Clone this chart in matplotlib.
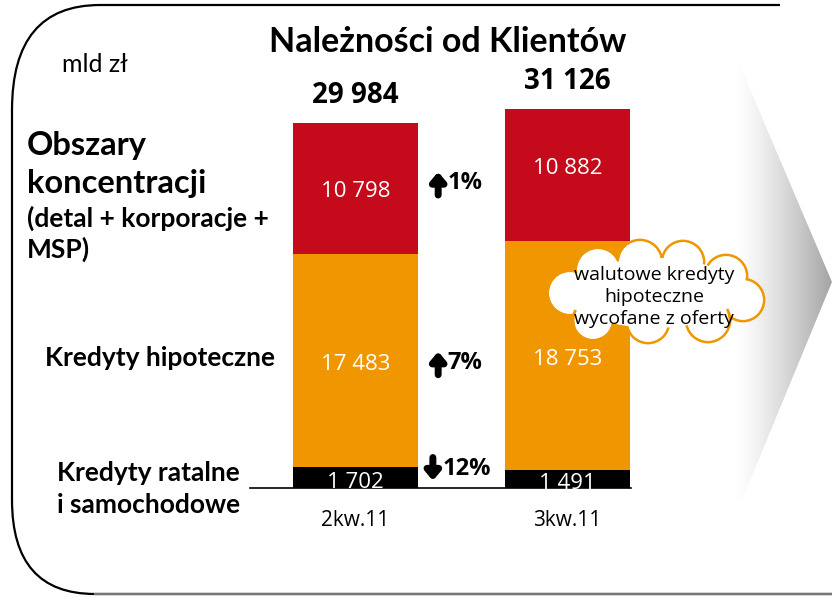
import numpy as np
import matplotlib
matplotlib.use("Agg")
import matplotlib.pyplot as plt
from matplotlib.patches import Circle, Ellipse, Polygon, PathPatch, Arc
from matplotlib.path import Path

# data (mld zl)
quarters = ["2kw.11", "3kw.11"]
ratalne = [1702, 1491]
hipoteczne = [17483, 18753]
obszary = [10798, 10882]
totals = ["29 984", "31 126"]
changes = ["1%", "7%", "12%"]
change_up = [True, True, False]

RED = "#C40A1B"
ORANGE = "#F09600"
FONT = "Lato"
NUMFONT = "Open Sans"

W, H = 832, 597
fig = plt.figure(figsize=(W / 100, H / 100), dpi=100)

def fx(px):
    return px / W

def fy(py):
    return 1 - py / H

def fmt(v):
    return f"{v:,}".replace(",", " ")

# background layer in pixel coords
bg = fig.add_axes([0, 0, 1, 1])
bg.axis("off")

# gray chevron with gradient
chev = Polygon([[600, 0], [712, 0], [832, 282], [742, 500], [600, 500]], closed=True,
               facecolor="none", edgecolor="none")
bg.add_patch(chev)
g = np.clip((np.linspace(712, 832, 256) - 735) / (832 - 735), 0, 1)
grad = np.tile(1 - 0.36 * g ** 1.3, (10, 1))
im = bg.imshow(grad, cmap="gray", vmin=0, vmax=1, extent=[712, 832, 500, 0],
               aspect="auto", zorder=0)
im.set_clip_path(chev)
bg.set_xlim(0, W)
bg.set_ylim(H, 0)

# rounded frame
verts = [(780, 5), (100, 5), (12, 5), (12, 110), (12, 500), (12, 594), (95, 594), (W, 594)]
codes = [Path.MOVETO, Path.LINETO, Path.CURVE3, Path.CURVE3, Path.LINETO,
         Path.CURVE3, Path.CURVE3, Path.LINETO]
bg.add_patch(PathPatch(Path(verts, codes), facecolor="none", edgecolor="black", lw=1.6))
bg.plot([95, W], [594, 594], color="#777777", lw=1.6)

# bars
ax = fig.add_axes([fx(250), fy(488), fx(631) - fx(250), fy(60) - fy(488)])
ax.set_ylim(0, 428 / 0.01219)
ax.set_xlim(-0.498, 1.300)
x = np.arange(len(quarters))
wdt = 0.59
ax.bar(x, ratalne, wdt, color="black")
ax.bar(x, hipoteczne, wdt, bottom=ratalne, color=ORANGE)
bot2 = np.array(ratalne) + np.array(hipoteczne)
ax.bar(x, obszary, wdt, bottom=bot2, color=RED)
ax.patch.set_alpha(0)
for s in ["top", "right", "left"]:
    ax.spines[s].set_visible(False)
ax.spines["bottom"].set_linewidth(1.2)
ax.set_xticks([])
ax.set_yticks([])

for i in range(len(quarters)):
    ax.text(x[i], ratalne[i] / 2 - 400, fmt(ratalne[i]), ha="center", va="center",
            color="white", fontsize=16, family=NUMFONT)
    ax.text(x[i], ratalne[i] + hipoteczne[i] * 0.5 - 300, fmt(hipoteczne[i]),
            ha="center", va="center", color="white", fontsize=16, family=NUMFONT)
    ax.text(x[i], bot2[i] + obszary[i] * 0.5 - (250 if i == 0 else -500), fmt(obszary[i]),
            ha="center", va="center", color="white", fontsize=16, family=NUMFONT)
    ax.text(x[i], bot2[i] + obszary[i] + 1000, totals[i], ha="center", va="bottom",
            fontsize=20, fontweight="bold", family=NUMFONT)
    ax.text(x[i], -1800, quarters[i], ha="center", va="top", fontsize=15, family=NUMFONT)

# change labels between the bars (arrow + percentage)
mid_y = [bot2[0] + obszary[0] * 0.5 + 400, ratalne[0] + hipoteczne[0] * 0.5 - 200, ratalne[0] / 2 + 700]
arrow_x = [0.39, 0.39, 0.365]
for yv, ax_x, txt, up in zip(mid_y, arrow_x, changes, change_up):
    sgn = 1 if up else -1
    ax.annotate("", xy=(ax_x, yv + sgn * 950), xytext=(ax_x, yv - sgn * 950),
                arrowprops=dict(arrowstyle="-|>,head_length=0.5,head_width=0.42",
                                lw=5, color="black", shrinkA=0, shrinkB=0))
    ax.text(ax_x + 0.045, yv, txt, ha="left", va="center", fontsize=17, fontweight="bold",
            family=NUMFONT)

# cloud callout on top layer
top = fig.add_axes([0, 0, 1, 1])
top.set_xlim(0, W)
top.set_ylim(H, 0)
top.axis("off")
bg.set_zorder(0)
ax.set_zorder(1)
top.set_zorder(2)
cloud = [(598, 270, 22), (640, 262, 22), (683, 262, 21), (726, 276, 21), (743, 300, 21),
         (708, 320, 22), (648, 322, 21), (593, 320, 20), (570, 293, 22)]
for cx, cy, cr in cloud:
    top.add_patch(Circle((cx, cy), cr, facecolor="white", edgecolor=ORANGE, lw=2.0, zorder=5))
for cx, cy, cr in cloud:
    top.add_patch(Circle((cx, cy), cr - 1.2, facecolor="white", edgecolor="none", zorder=6))
top.add_patch(Ellipse((655, 293), 170, 70, facecolor="white", edgecolor="none", zorder=6))
# small inner strokes of the cloud
top.add_patch(Arc((593, 320), 40, 40, theta1=-200, theta2=-150, color=ORANGE, lw=2, zorder=7))
top.add_patch(Arc((708, 320), 44, 44, theta1=-30, theta2=15, color=ORANGE, lw=2, zorder=7))
top.text(654, 297, "walutowe kredyty\nhipoteczne\nwycofane z oferty", ha="center", va="center",
         fontsize=14, family=NUMFONT, linespacing=1.3, zorder=8)

# left labels and title
top.text(62, 65, "mld zł", fontsize=18, family=FONT, va="center")
top.text(448, 42, "Należności od Klientów", fontsize=24.5, family=FONT, fontweight="bold",
         ha="center", va="center")
top.text(27, 145, "Obszary", fontsize=23.5, family=FONT, fontweight="bold", va="center")
top.text(27, 183, "koncentracji", fontsize=23.5, family=FONT, fontweight="bold", va="center")
top.text(27, 218, "(detal + korporacje +", fontsize=19, family=FONT, fontweight="bold", va="center")
top.text(27, 249, "MSP)", fontsize=19, family=FONT, fontweight="bold", va="center")
top.text(45, 358, "Kredyty hipoteczne", fontsize=19, family=FONT, fontweight="bold", va="center")
top.text(57, 473, "Kredyty ratalne", fontsize=19, family=FONT, fontweight="bold", va="center")
top.text(57, 505, "i samochodowe", fontsize=19, family=FONT, fontweight="bold", va="center")

fig.savefig("out.png", dpi=100)
